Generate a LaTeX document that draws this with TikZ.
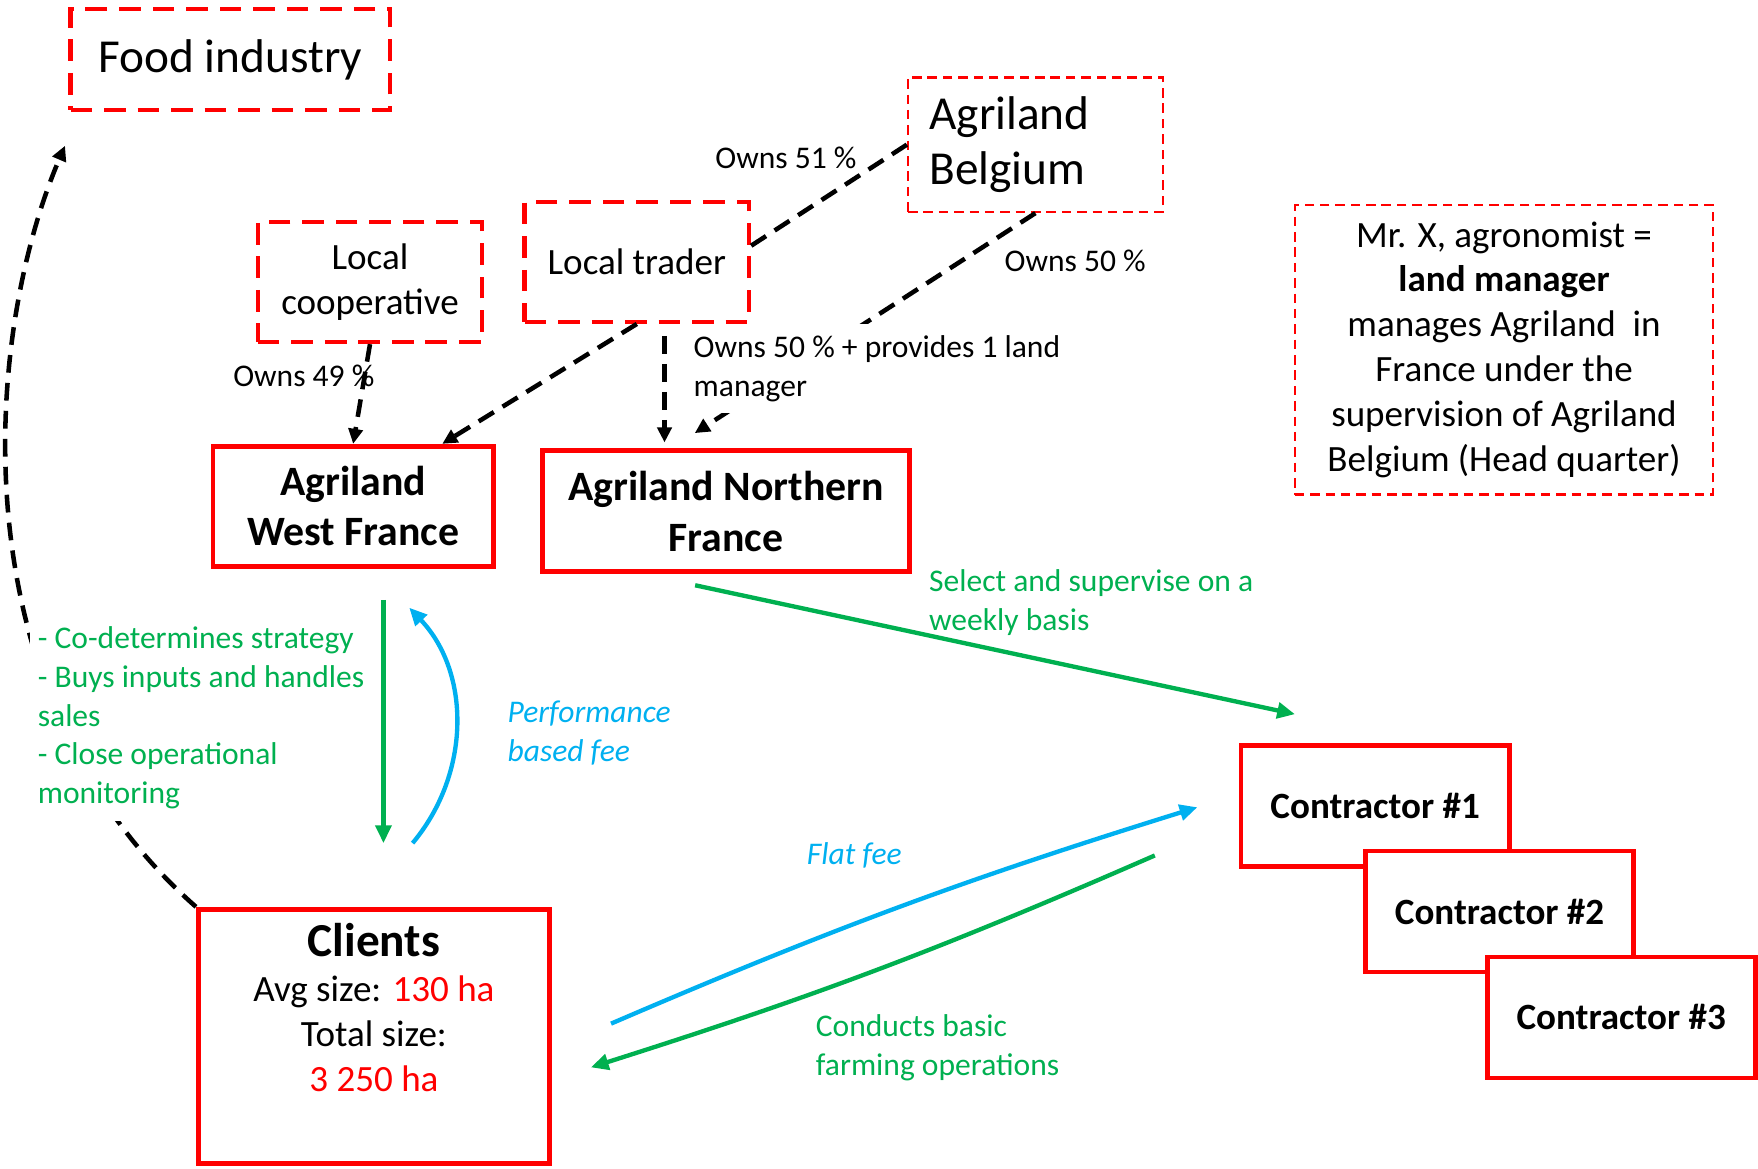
\documentclass[tikz,border=0pt]{standalone}
\usepackage{fontspec}
\setmainfont{Carlito}
\usetikzlibrary{arrows.meta}
\definecolor{offgreen}{RGB}{0,176,80}
\definecolor{offblue}{RGB}{0,176,240}

\begin{document}
\begin{tikzpicture}[x=0.01cm, y=-0.01cm,
    dbox/.style = {draw=red, line width=1.1pt, dash pattern=on 5.5pt off 3pt, inner sep=0pt},
    tbox/.style = {draw=red, line width=0.6pt, dash pattern=on 2.4pt off 1.5pt, inner sep=0pt},
    sbox/.style = {draw=red, line width=1.2pt, fill=white, inner sep=0pt},
    big/.style = {font=\fontsize{12}{14.2}\selectfont},
    mid/.style = {font=\fontsize{9.4}{11.4}\selectfont},
    head/.style = {font=\fontsize{10.6}{12.8}\selectfont\bfseries},
    lbl/.style = {font=\fontsize{8}{9.8}\selectfont, inner sep=1pt},
    lblit/.style = {lbl, font=\fontsize{8}{9.8}\selectfont\itshape},
    contr/.style = {sbox, font=\fontsize{9.4}{11.4}\selectfont\bfseries, minimum width=2.39cm, minimum height=1.08cm},
    own/.style = {black, line width=1.15pt, dash pattern=on 4.5pt off 2.6pt, -{Triangle[length=3.8pt,width=3.6pt]}},
    flow/.style = {line width=1.1pt, -{Triangle[length=4.5pt,width=4pt]}}]

    \useasboundingbox (0, 0) rectangle (1568, 1042);

    \node at (205.5, 53) [dbox, big, minimum width=2.85cm, minimum height=0.9cm] (food) {\raisebox{-1.2pt}{Food industry}};
    \node at (923.5, 129) [tbox, big, minimum width=2.27cm, minimum height=1.2cm, text width=1.89cm, align=left] (belg) {Agriland\\Belgium};
    \node at (568, 233.5) [dbox, mid, minimum width=2cm, minimum height=1.07cm] (trader) {Local trader};
    \node at (330, 251.5) [dbox, mid, minimum width=2cm, minimum height=1.07cm, align=center] (coop) {Local\\cooperative};
    \node at (1341.5, 312) [tbox, mid, minimum width=3.73cm, minimum height=2.58cm, align=center] (mrx) {Mr. X, agronomist =\\\textbf{land manager}\\manages Agriland~ in\\France under the\\supervision of Agriland\\Belgium (Head quarter)};

    \node at (315, 451.5) [sbox, head, minimum width=2.5cm, minimum height=1.07cm, align=center] (west) {Agriland\\West France};
    \node at (647.5, 456) [sbox, head, minimum width=3.27cm, minimum height=1.08cm, align=center] (north) {Agriland Northern\\France};

    \node at (333.5, 924.5) [sbox, minimum width=3.13cm, minimum height=2.27cm] (clients) {};
    \node at (clients.north) [anchor=north, mid, align=center, inner sep=2pt, yshift=-2pt] (clients_txt) {{\fontsize{12}{14}\selectfont\bfseries Clients}\\Avg size: \textcolor{red}{130 ha}\\Total size:\\\textcolor{red}{3 250 ha}};

    \node at (1226.5, 719) [contr] (con_1) {Contractor \#1};
    \node at (1337.5, 813) [contr] (con_2) {Contractor \#2};
    \node at (1446, 907.5) [contr] (con_3) {Contractor \#3};

    \coordinate (food_tip) at (58, 130);
    \draw[own] (clients.north west) .. controls (-40, 620) and (-15, 300) .. (food_tip);

    \draw[own] (coop.south) -- (west.north);
    \node at (271, 335) [lbl] (own_49) {Owns 49 \%};
    \draw[own] (trader.south) -- (west.35);
    \draw[own, -] (belg.west) -- (trader.8);
    \node at (701, 141) [lbl] (own_51) {Owns 51 \%};
    \draw[own, shorten >=0.25cm] (belg.south) -- (north.131);
    \node at (959, 233) [lbl] (own_50) {Owns 50 \%};
    \draw[own, shorten <=3pt, shorten >=1.5pt] (trader.294) -- (trader.294 |- north.north);
    \node at (607.5, 288) [lbl, anchor=north west, fill=white, inner sep=3pt, align=left] (own_50b) {Owns 50 \% + provides 1 land\\manager};

    \node at (26, 548) [lbl, anchor=north west, fill=white, inner xsep=2pt, inner ysep=3pt, align=left, text=offgreen] (roles) {- Co-determines strategy\\- Buys inputs and handles\\sales\\- Close operational\\monitoring};

    \coordinate (strat_s) at (342, 535);
    \coordinate (strat_e) at (342, 752);
    \draw[flow, offgreen] (strat_s) -- (strat_e);
    \coordinate (perf_s) at (368, 752);
    \coordinate (perf_e) at (365, 542);
    \draw[flow, offblue] (perf_s) .. controls (420, 690) and (420, 600) .. (perf_e);
    \node at (448.5, 654) [lblit, anchor=west, align=left, text=offblue] (perf) {Performance\\based fee};

    \coordinate (sel_s) at (620, 522);
    \coordinate (sel_e) at (1155, 637);
    \draw[flow, offgreen] (sel_s) -- (sel_e);
    \node at (824.5, 537.5) [lbl, anchor=west, align=left, text=offgreen] (sel) {Select and supervise on a\\weekly basis};

    \coordinate (fee_s) at (545, 913);
    \coordinate (fee_e) at (1068, 720);
    \draw[flow, offblue] (fee_s) to[bend left=3] (fee_e);
    \node at (762, 763) [lblit, text=offblue] (fee) {Flat fee};

    \coordinate (ops_s) at (1030, 763);
    \coordinate (ops_e) at (527, 952);
    \draw[flow, offgreen] (ops_s) to[bend left=3] (ops_e);
    \node at (723.5, 934.5) [lbl, anchor=west, align=left, text=offgreen] (ops) {Conducts basic\\farming operations};
\end{tikzpicture}
\end{document}
